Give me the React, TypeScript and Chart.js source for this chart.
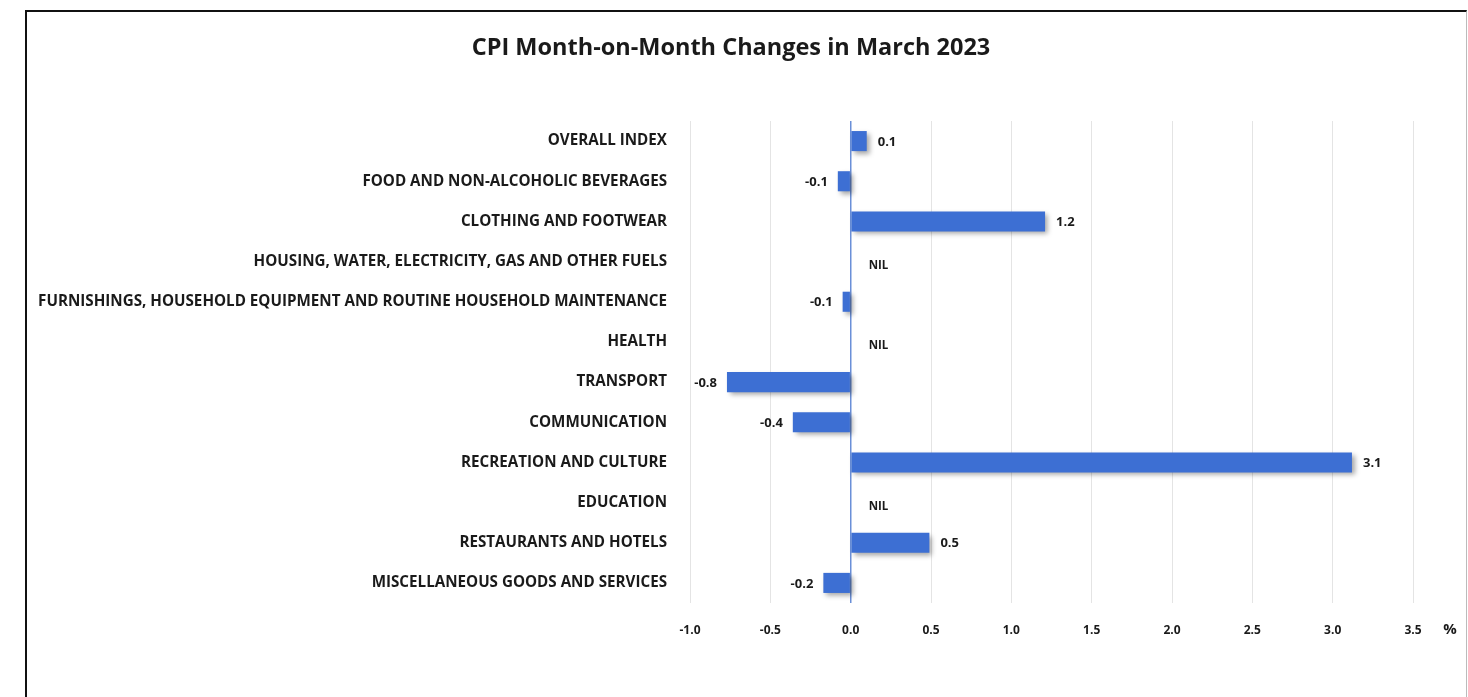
import React, { useEffect, useRef } from "react";
import { Chart, registerables } from "chart.js";

Chart.register(...registerables);

const categories = [
  "OVERALL INDEX",
  "FOOD AND NON-ALCOHOLIC BEVERAGES",
  "CLOTHING AND FOOTWEAR",
  "HOUSING, WATER, ELECTRICITY, GAS AND OTHER FUELS",
  "FURNISHINGS, HOUSEHOLD EQUIPMENT AND ROUTINE HOUSEHOLD MAINTENANCE",
  "HEALTH",
  "TRANSPORT",
  "COMMUNICATION",
  "RECREATION AND CULTURE",
  "EDUCATION",
  "RESTAURANTS AND HOTELS",
  "MISCELLANEOUS GOODS AND SERVICES",
];

// bar lengths (null = NIL)
const values: (number | null)[] = [0.1, -0.08, 1.21, null, -0.05, null, -0.77, -0.36, 3.12, null, 0.49, -0.17];
// printed value labels
const valueLabels = ["0.1", "-0.1", "1.2", "NIL", "-0.1", "NIL", "-0.8", "-0.4", "3.1", "NIL", "0.5", "-0.2"];

const xMin = -1.0;
const xMax = 3.5;
const xStep = 0.5;
const title = "CPI Month-on-Month Changes in March 2023";
const unitLabel = "%";

const FONT = "'Open Sans', Lato, sans-serif";
const TEXT = "#1a1a1a";
const BAR = "#3d6fd3";

export default function App() {
  const ref = useRef<HTMLCanvasElement | null>(null);

  useEffect(() => {
    if (!ref.current) return;

    const shadowPlugin = {
      id: "barShadow",
      beforeDatasetDraw(chart: any) {
        const c = chart.ctx;
        c.save();
        c.shadowColor = "rgba(0,0,0,0.35)";
        c.shadowBlur = 5;
        c.shadowOffsetX = 3;
        c.shadowOffsetY = 3;
      },
      afterDatasetDraw(chart: any) {
        chart.ctx.restore();
      },
    };

    const labelPlugin = {
      id: "valueLabels",
      afterDatasetsDraw(chart: any) {
        const c = chart.ctx;
        const xs = chart.scales.x;
        const ys = chart.scales.y;
        c.save();
        c.fillStyle = TEXT;
        c.textBaseline = "middle";
        values.forEach((v, i) => {
          const y = ys.getPixelForValue(i) + 1;
          if (v === null) {
            c.textAlign = "left";
            c.font = `bold 11.5px ${FONT}`;
            c.fillText(valueLabels[i], xs.getPixelForValue(0) + 18, y + 3);
          } else if (v >= 0) {
            c.font = `bold 13px ${FONT}`;
            c.textAlign = "left";
            c.fillText(valueLabels[i], xs.getPixelForValue(v) + 11, y);
          } else {
            c.font = `bold 13px ${FONT}`;
            c.textAlign = "right";
            c.fillText(valueLabels[i], xs.getPixelForValue(v) - 10, y);
          }
        });
        // unit label
        c.font = `bold 15px ${FONT}`;
        c.textAlign = "center";
        c.fillText(unitLabel, chart.chartArea.right + 37, chart.chartArea.bottom + 27);
        // title
        c.font = `bold 23.5px ${FONT}`;
        c.textAlign = "center";
        c.fillText(title, 731, 48);
        c.restore();
      },
    };

    const chart = new Chart(ref.current, {
      type: "bar",
      data: {
        labels: categories,
        datasets: [
          {
            data: values as any,
            backgroundColor: BAR,
            borderWidth: 0,
            barPercentage: 0.5,
            categoryPercentage: 1,
          },
        ],
      },
      options: {
        indexAxis: "y",
        animation: false,
        responsive: false,
        maintainAspectRatio: false,
        layout: { padding: { left: 0, right: 55, top: 121, bottom: 0 } },
        plugins: {
          legend: { display: false },
          tooltip: { enabled: false },
          title: { display: false },
        },
        scales: {
          x: {
            type: "linear",
            min: xMin,
            max: xMax,
            ticks: {
              stepSize: xStep,
              color: TEXT,
              font: { family: FONT, size: 12, weight: "bold" },
              padding: 20,
              callback: (v: any) => Number(v).toFixed(1),
            },
            grid: {
              drawTicks: false,
              color: (ctx: any) => (ctx.tick && ctx.tick.value === 0 ? "#6a8fd8" : "#e4e4e4"),
              lineWidth: (ctx: any) => (ctx.tick && ctx.tick.value === 0 ? 1.5 : 1),
            },
            border: { display: false },
            afterFit: (s: any) => {
              s.height = 94;
            },
          },
          y: {
            ticks: {
              color: TEXT,
              font: { family: FONT, size: 15.2, weight: "bold" },
              padding: 23,
              autoSkip: false,
            },
            grid: { display: false, drawTicks: false },
            border: { display: false },
            afterFit: (s: any) => {
              s.width = 690;
            },
          },
        },
      },
      plugins: [shadowPlugin, labelPlugin],
    } as any);

    return () => chart.destroy();
  }, []);

  return (
    <div style={{ position: "absolute", left: 0, top: 0, width: 1468, height: 697, background: "#fff", overflow: "hidden" }}>
      <div
        style={{
          position: "absolute",
          left: 25,
          top: 10,
          width: 1442,
          height: 720,
          borderTop: "2px solid #111",
          borderLeft: "2px solid #111",
          borderRight: "1px solid #bbb",
          boxSizing: "border-box",
        }}
      />
      <canvas ref={ref} width={1468} height={697} style={{ position: "absolute", left: 0, top: 0 }} />
    </div>
  );
}
